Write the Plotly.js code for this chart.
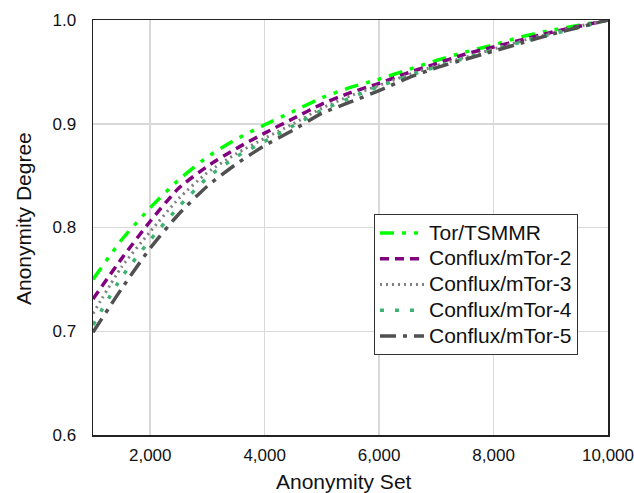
<!DOCTYPE html>
<html>
<head>
<meta charset="utf-8">
<script src="https://cdn.plot.ly/plotly-3.0.1.min.js"></script>
<style>html,body{margin:0;padding:0;background:#fff;}#chart{width:634px;height:493px;}</style>
</head>
<body>
<div id="chart"></div>
<script>
const anonymitySet = [1000,1500,2000,2500,3000,3500,4000,4500,5000,5500,6000,6500,7000,7500,8000,8500,9000,9500,10000];
const torTSMMR   = [0.750,0.788,0.819,0.846,0.868,0.885,0.899,0.912,0.925,0.935,0.943,0.952,0.961,0.969,0.976,0.984,0.990,0.995,1.000];
const confluxM2  = [0.731,0.770,0.806,0.838,0.859,0.876,0.891,0.905,0.919,0.930,0.939,0.949,0.958,0.967,0.974,0.981,0.988,0.994,1.000];
const confluxM3  = [0.717,0.762,0.796,0.828,0.853,0.871,0.886,0.900,0.915,0.927,0.937,0.947,0.956,0.964,0.972,0.980,0.987,0.994,1.000];
const confluxM4  = [0.706,0.752,0.788,0.820,0.848,0.868,0.883,0.898,0.913,0.925,0.936,0.946,0.955,0.963,0.971,0.979,0.986,0.993,1.000];
const confluxM5  = [0.699,0.741,0.780,0.813,0.840,0.861,0.879,0.894,0.910,0.921,0.932,0.944,0.954,0.962,0.970,0.978,0.986,0.993,1.000];
const seriesNames = ['Tor/TSMMR','Conflux/mTor-2','Conflux/mTor-3','Conflux/mTor-4','Conflux/mTor-5'];
const xTicks = [2000,4000,6000,8000,10000];
const yTicks = [0.6,0.7,0.8,0.9,1.0];

const styles = [
  {color:'#00FF00', width:3.5, dash:'14px,8px,4px,8px,4px,8px'},
  {color:'#800080', width:3.5, dash:'9px,6px'},
  {color:'#808080', width:3, dash:'2px,4px'},
  {color:'#3CB371', width:3.5, dash:'4px,11px'},
  {color:'#505050', width:3.5, dash:'16px,7px,4px,7px'}
];
const ys = [torTSMMR, confluxM2, confluxM3, confluxM4, confluxM5];
const traces = ys.map((y,i)=>({
  x: anonymitySet, y: y, type:'scatter', mode:'lines',
  name: '<span style="font-size:21px">' + seriesNames[i] + '</span>',
  line: {color: styles[i].color, width: styles[i].width, dash: styles[i].dash, shape:'spline', smoothing:0.6}
}));

const FONT = 'Liberation Sans, Arial, sans-serif';
const layout = {
  width:634, height:493,
  margin:{l:93, r:26, t:20, b:58, pad:0},
  paper_bgcolor:'#fff', plot_bgcolor:'#fff',
  font:{family:FONT, color:'#111', size:17},
  showlegend:true,
  legend:{x:0.5456, y:0.5325, xanchor:'left', yanchor:'top', bgcolor:'#fff',
    bordercolor:'#333', borderwidth:1, font:{family:FONT, size:17.5, color:'#111'},
    itemwidth:44, tracegroupgap:0},
  xaxis:{range:[1000,10000], tickvals:xTicks, tickformat:',d', ticks:'', ticklabelstandoff:4,
    showgrid:true, gridcolor:'#d9d9d9', gridwidth:1.5, zeroline:false,
    showline:true, linecolor:'#222', linewidth:1.5, mirror:true,
    tickfont:{family:FONT, size:17, color:'#111'}},
  yaxis:{range:[0.6,1.0], tickvals:yTicks, tickformat:'.1f', ticks:'', ticklabelstandoff:12,
    showgrid:true, gridcolor:'#d9d9d9', gridwidth:1.5, zeroline:false,
    showline:true, linecolor:'#222', linewidth:1.5, mirror:true,
    tickfont:{family:FONT, size:17, color:'#111'}},
  annotations:[
    {text:'Anonymity Set', xref:'paper', yref:'paper', x:0.487, y:0, xanchor:'center', yanchor:'middle',
     yshift:-46.7, showarrow:false, font:{family:FONT, size:21, color:'#111'}},
    {text:'Anonymity Degree', xref:'paper', yref:'paper', x:0, y:0.5217, xanchor:'center', yanchor:'middle',
     xshift:-69.5, textangle:-90, showarrow:false, font:{family:FONT, size:21, color:'#111'}}
  ]
};
Plotly.newPlot('chart', traces, layout, {displayModeBar:false, staticPlot:true});
</script>
</body>
</html>
